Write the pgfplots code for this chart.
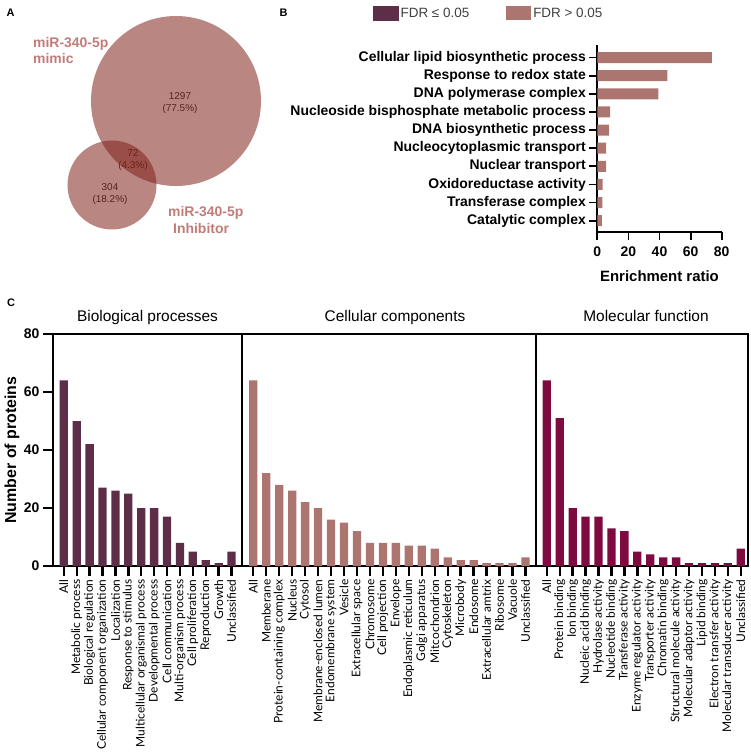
\documentclass[border=0pt]{standalone}
\usepackage{pgfplots}
\pgfplotsset{compat=1.18}
\usepackage{fontspec}
\setmainfont{Liberation Sans}
\newfontfamily\lato{Lato}
\definecolor{darkc}{RGB}{94,46,72}
\definecolor{lightc}{RGB}{173,117,112}
\definecolor{crim}{RGB}{126,10,64}
\definecolor{vennc}{RGB}{127,31,24}
\definecolor{venntext}{RGB}{194,124,120}
\pgfplotsset{
  cbase/.style={
    scale only axis, height=232bp, anchor=south west,
    ybar, bar width=8.3bp, ymin=0, ymax=80, enlargelimits=false,
    axis line style={line width=2.6bp}, tick style={line width=2.4bp, black},
    tick align=outside, major tick length=10bp, tick pos=left,
    xticklabel style={rotate=90, anchor=east, font=\lato\fontsize{12}{12}\selectfont},
    yticklabel style={font=\bfseries\fontsize{14}{14}\selectfont},
    /pgf/number format/assume math mode=true,
    title style={at={(0.5,1)}, anchor=base, yshift=6.5bp, font=\fontsize{15.5}{16}\selectfont},
  }
}
\begin{document}
\begin{tikzpicture}
\useasboundingbox (0,0) rectangle (751bp,-753bp);

% ---------- Panel labels
\node[font=\bfseries\fontsize{11}{11}\selectfont] at (10.5bp,-12.7bp) {A};
\node[font=\bfseries\fontsize{11}{11}\selectfont] at (283.5bp,-13bp) {B};
\node[font=\bfseries\fontsize{11}{11}\selectfont] at (11bp,-302.5bp) {C};

% ---------- Panel A: Venn
\begin{axis}[scale only axis, width=260bp, height=260bp, at={(0bp,0bp)}, anchor=north west,
  xmin=0, xmax=260, ymin=0, ymax=260, y dir=reverse, hide axis, clip=false]
\addplot[vennc, only marks, mark=*, mark size=85bp, mark options={fill=vennc, draw=none, draw opacity=0, fill opacity=0.54}] coordinates {(176,101)};
\addplot[vennc, only marks, mark=*, mark size=44.5bp, mark options={fill=vennc, draw=none, draw opacity=0, fill opacity=0.54}] coordinates {(112,185)};
\node[align=center, font=\fontsize{10}{12}\selectfont, text=black!85] at (axis cs:180,103) {1297\\(77.5\%)};
\node[align=center, font=\fontsize{10}{12}\selectfont, text=black!85] at (axis cs:133,160) {72\\(4.3\%)};
\node[align=center, font=\fontsize{10}{12}\selectfont, text=black!85] at (axis cs:110,194) {304\\(18.2\%)};
\node[anchor=base west, inner sep=0pt, font=\bfseries\fontsize{14}{14}\selectfont, text=venntext] at (axis cs:33,47) {miR-340-5p};
\node[anchor=base west, inner sep=0pt, font=\bfseries\fontsize{14}{14}\selectfont, text=venntext] at (axis cs:33,63) {mimic};
\node[anchor=base west, inner sep=0pt, font=\bfseries\fontsize{14}{14}\selectfont, text=venntext] at (axis cs:168,216) {miR-340-5p};
\node[anchor=base west, inner sep=0pt, font=\bfseries\fontsize{14}{14}\selectfont, text=venntext] at (axis cs:173,233) {Inhibitor};
\end{axis}

% ---------- Panel B
\begin{axis}[scale only axis, width=124.4bp, height=186.7bp, at={(597.3bp,-231.7bp)}, anchor=south west,
  xbar, bar width=11bp, xmin=0, xmax=80, ymin=-0.607, ymax=9.69, enlargelimits=false,
  axis x line=bottom, axis y line=left, axis line style={-, line width=1.8bp},
  tick style={line width=1.8bp, black}, tick align=outside, major tick length=8bp,
  xtick={0,20,40,60,80}, ytick={0,...,9},
  yticklabels={Catalytic complex, Transferase complex, Oxidoreductase activity, Nuclear transport, Nucleocytoplasmic transport, DNA biosynthetic process, Nucleoside bisphosphate metabolic process, DNA polymerase complex, Response to redox state, Cellular lipid biosynthetic process},
  yticklabel style={font=\bfseries\fontsize{14}{14}\selectfont},
  xticklabel style={font=\bfseries\fontsize{14}{14}\selectfont, yshift=-4bp},
  /pgf/number format/assume math mode=true,
  xlabel={Enrichment ratio}, xlabel style={font=\bfseries\fontsize{15}{15}\selectfont, yshift=-7bp},
  legend columns=2,
  legend style={draw=none, fill=none, at={(-1.803,1.171)}, anchor=west, inner sep=0pt,
    font=\fontsize{13.5}{14}\selectfont, text=black!75,
    /tikz/every even column/.append style={column sep=35bp}},
]
\addlegendimage{legend image code/.code={\fill[darkc] (0bp,-7bp) rectangle (25bp,7bp);}}
\addlegendentry{FDR ≤ 0.05}
\addplot[fill=lightc, draw=none, legend image code/.code={\fill[lightc] (0bp,-7bp) rectangle (25bp,7bp);}] coordinates {
(2.9,0) (3.3,1) (3.5,2) (5.7,3) (5.6,4) (7.5,5) (8.2,6) (39.2,7) (45,8) (73.6,9)};
\addlegendentry{FDR > 0.05}
\end{axis}

% ---------- Panel C
\begin{axis}[cbase, width=189bp, at={(53bp,-566bp)}, xmin=-0.84, xmax=13.81,
  xtick={0,...,13}, ytick={0,20,...,80},
  xticklabels={All, Metabolic process, Biological regulation, Cellular component organization, Localization, Response to stimulus, Multicellular organismal process, Developmental process, Cell communication, Multi-organism process, Cell proliferation, Reproduction, Growth, Unclassified},
  title={Biological processes},
  ylabel={Number of proteins},
  ylabel style={font=\bfseries\fontsize{16}{16}\selectfont, at={(axis description cs:-0.217,0.5)}, anchor=center}]
\addplot[fill=darkc, draw=none] coordinates {(0,64)(1,50)(2,42)(3,27)(4,26)(5,25)(6,20)(7,20)(8,17)(9,8)(10,5)(11,2)(12,1)(13,5)};
\end{axis}

\begin{axis}[cbase, width=294bp, at={(242bp,-566bp)}, xmin=-0.87, xmax=21.81,
  xtick={0,...,21}, ytick=\empty,
  xticklabels={All, Memberane, Protein-containing complex, Nucleus, Cytosol, Membrane-enclosed lumen, Endomembrane system, Vesicle, Extracellular space, Chromosome, Cell projection, Envelope, Endoplasmic reticulum, Golgi apparatus, Mitcochondrion, Cytoskeleton, Microbody, Endosome, Extracellular amtrix, Ribosome, Vacuole, Unclassified},
  title={Cellular components}, title style={xshift=6bp}]
\addplot[fill=lightc, draw=none] coordinates {(0,64)(1,32)(2,28)(3,26)(4,22)(5,20)(6,16)(7,15)(8,12)(9,8)(10,8)(11,8)(12,7)(13,7)(14,6)(15,3)(16,2)(17,2)(18,1)(19,1)(20,1)(21,3)};
\end{axis}

\begin{axis}[cbase, width=212bp, at={(536bp,-566bp)}, xmin=-0.835, xmax=15.56,
  xtick={0,...,15}, ytick=\empty,
  xticklabels={All, Protein binding, Ion binding, Nucleic acid binding, Hydrolase activity, Nucleotide binding, Transferase activity, Enzyme regulator activity, Transporter activity, Chromatin binding, Structural molecule activity, Molecular adaptor activity, Lipid binding, Electron transfer activity, Molecular transducer activity, Unclassified},
  title={Molecular function}, title style={xshift=4bp}]
\addplot[fill=crim, draw=none] coordinates {(0,64)(1,51)(2,20)(3,17)(4,17)(5,13)(6,12)(7,5)(8,4)(9,3)(10,3)(11,1)(12,1)(13,1)(14,1)(15,6)};
\end{axis}
\end{tikzpicture}
\end{document}
